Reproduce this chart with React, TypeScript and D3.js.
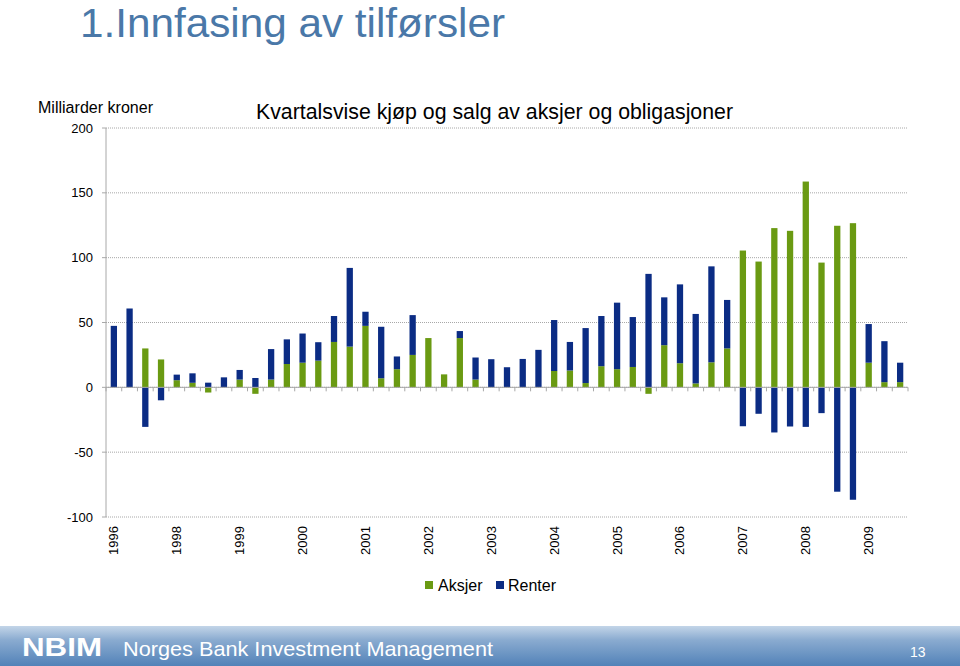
import React from "react";
import * as d3 from "d3";

const quarters: string[] = Array.from({ length: 51 }, (_, i) => `Q${i + 1}`);
const yearLabels: { index: number; label: string }[] = [
  { index: 0, label: "1996" },
  { index: 4, label: "1998" },
  { index: 8, label: "1999" },
  { index: 12, label: "2000" },
  { index: 16, label: "2001" },
  { index: 20, label: "2002" },
  { index: 24, label: "2003" },
  { index: 28, label: "2004" },
  { index: 32, label: "2005" },
  { index: 36, label: "2006" },
  { index: 40, label: "2007" },
  { index: 44, label: "2008" },
  { index: 48, label: "2009" },
];
const aksjer: number[] = [
  0, 0, 30, 21.5, 5.5, 3.5, -4, 0, 6, -5,
  6, 18, 19, 20.6, 35, 31.4, 47.4, 7, 14, 25,
  38, 10, 38, 6, 0, 0, 0, 0, 12.6, 13,
  3.3, 16.3, 14, 15.7, -5, 32.5, 18.6, 3, 19.3, 30,
  105.5, 97, 122.8, 120.7, 158.7, 96.2, 124.6, 126.6, 19, 4,
  4,
];
const renter: number[] = [
  47.4, 60.8, -30.5, -10, 4.3, 7.3, 3.6, 7.7, 7.4, 7.2,
  23.5, 19, 22.5, 14.2, 20, 60.7, 10.9, 39.7, 9.8, 30.7,
  0, 0, 5.4, 17, 21.7, 15.5, 21.9, 28.9, 39.3, 22,
  42.4, 38.7, 51.3, 38.5, 87.5, 36.9, 60.8, 53.6, 74, 37.4,
  -30, -20.4, -34.8, -30.2, -30.5, -19.9, -80.5, -86.7, 29.8, 31.6,
  15,
];
const yTicks: number[] = [200, 150, 100, 50, 0, -50, -100];
const seriesNames = ["Aksjer", "Renter"];

const GREEN = "#6a9a12";
const NAVY = "#0b2c84";

export default function App() {
  const W = 960;
  const H = 666;
  const x0 = 106;
  const x1 = 908;
  const x = d3.scaleBand<string>().domain(quarters).range([x0, x1]).paddingInner(0.6).paddingOuter(0.3);
  const y = d3.scaleLinear().domain([-100, 200]).range([517, 128]);

  const segs: { key: string; x: number; y0: number; y1: number; color: string }[] = [];
  quarters.forEach((q, i) => {
    let pos = 0;
    let neg = 0;
    [aksjer[i], renter[i]].forEach((v, s) => {
      const color = s === 0 ? GREEN : NAVY;
      if (v >= 0) {
        segs.push({ key: `${q}-${s}`, x: x(q)!, y0: pos, y1: pos + v, color });
        pos += v;
      } else {
        segs.push({ key: `${q}-${s}`, x: x(q)!, y0: neg, y1: neg + v, color });
        neg += v;
      }
    });
  });

  const boundaries = d3.range(quarters.length + 1).map((k) => x0 + ((x1 - x0) / quarters.length) * k);

  return (
    <svg width={W} height={H} style={{ position: "absolute", left: 0, top: 0 }} fontFamily="Liberation Sans, Arial, sans-serif">
      <defs>
        <linearGradient id="foot" x1="0" y1="0" x2="0" y2="1">
          <stop offset="0" stopColor="#c3d5e8" />
          <stop offset="0.35" stopColor="#8aabd0" />
          <stop offset="1" stopColor="#5282b8" />
        </linearGradient>
      </defs>
      <rect x={0} y={0} width={W} height={H} fill="#fff" />
      <text x={80} y={37} fontSize={40} fill="#4a78a8" textLength={425} lengthAdjust="spacingAndGlyphs">
        1.Innfasing av tilførsler
      </text>
      <text x={38} y={113} fontSize={16} fill="#000" textLength={115} lengthAdjust="spacingAndGlyphs">
        Milliarder kroner
      </text>
      <text x={256} y={119} fontSize={22} fill="#000" textLength={477} lengthAdjust="spacingAndGlyphs">
        Kvartalsvise kjøp og salg av aksjer og obligasjoner
      </text>

      {yTicks.map((t) => (
        <g key={t}>
          <line x1={x0} x2={x1} y1={y(t)} y2={y(t)} stroke="#a8a8a8" strokeWidth={1} strokeDasharray="1,1" />
          <line x1={x0 - 4} x2={x0} y1={y(t)} y2={y(t)} stroke="#a8a8a8" />
          <text x={93} y={y(t) + 4.5} fontSize={13} textAnchor="end" fill="#000">
            {t}
          </text>
        </g>
      ))}
      <line x1={x0} x2={x0} y1={y(200)} y2={y(-100)} stroke="#a8a8a8" />

      {segs.map((s) => (
        <rect
          key={s.key}
          x={s.x}
          width={x.bandwidth()}
          y={y(Math.max(s.y0, s.y1))}
          height={Math.abs(y(s.y0) - y(s.y1))}
          fill={s.color}
        />
      ))}

      <line x1={x0} x2={x1} y1={y(0)} y2={y(0)} stroke="#a8a8a8" />
      {boundaries.map((b, i) => (
        <line key={i} x1={b} x2={b} y1={y(0)} y2={y(0) + 4} stroke="#a8a8a8" />
      ))}

      {yearLabels.map((l) => {
        const cx = x(quarters[l.index])! + x.bandwidth() / 2 + 4.5;
        return (
          <text key={l.label} transform={`translate(${cx},526) rotate(-90)`} fontSize={13} textAnchor="end" fill="#000">
            {l.label}
          </text>
        );
      })}

      <rect x={425} y={581} width={8} height={8} fill={GREEN} />
      <text x={438} y={591} fontSize={16} fill="#000">{seriesNames[0]}</text>
      <rect x={496} y={581} width={8} height={8} fill={NAVY} />
      <text x={508} y={591} fontSize={16} fill="#000">{seriesNames[1]}</text>

      <rect x={0} y={626} width={W} height={40} fill="url(#foot)" />
      <text x={22} y={656} fontSize={25} fontWeight="bold" fill="#fff" textLength={80} lengthAdjust="spacingAndGlyphs">
        NBIM
      </text>
      <text x={123} y={656} fontSize={21} fill="#fff" textLength={370} lengthAdjust="spacingAndGlyphs">
        Norges Bank Investment Management
      </text>
      <text x={910} y={657} fontSize={14} fill="#fff">13</text>
    </svg>
  );
}
